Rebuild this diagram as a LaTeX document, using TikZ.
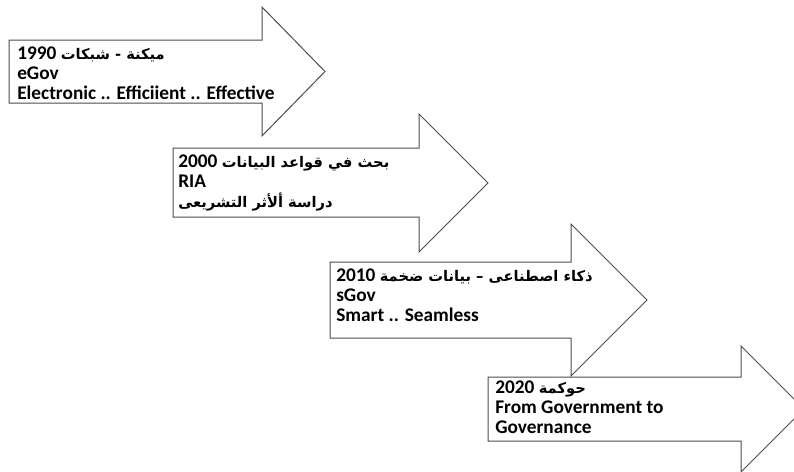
\documentclass[tikz,border=0pt]{standalone}
\usepackage{fontspec}
\setmainfont{Carlito}
\newfontfamily\arabicfont[Script=Arabic]{DejaVu Sans}
\TeXXeTstate=1
\usepackage{tikz}

% Arabic words set a little smaller than the Latin ones
\newcommand{\arwords}[1]{{\arabicfont\fontsize{11}{15}\selectfont #1}}

\begin{document}
\begin{tikzpicture}[
    x=0.75pt, y=-0.75pt,
    stagearrow/.style={draw=black!70, fill=white, line width=0.75pt, line join=miter},
    stagetext/.style={anchor=north west, inner sep=0pt, align=left,
                      font=\fontsize{14.5}{15}\selectfont\bfseries}
]
\useasboundingbox (0,0) rectangle (794,472);
\clip (0,0) rectangle (794,472);
%% Stage 1: 1990
\draw[stagearrow] (9,40) -- (262,40) -- (262,7) -- (325,71.5) -- (262,136)
    -- (262,103) -- (9,103) -- cycle;
\node[stagetext] (t1990) at (17,47) {
    \beginR\arwords{ميكنة - شبكات} 1990\endR\\
    eGov\\
    Electronic .. Efficiient .. Effective
};
%% Stage 2: 2000
\draw[stagearrow] (173,148) -- (419,148) -- (419,114) -- (488,183) -- (419,252)
    -- (419,217) -- (173,217) -- cycle;
\node[stagetext] (t2000) at (178,155) {
    \beginR\arwords{بحث في قواعد البيانات} 2000\endR\\
    RIA\\
    \beginR\arwords{دراسة ألأثر التشريعى}\endR
};
%% Stage 3: 2010
\draw[stagearrow] (330,262) -- (571,262) -- (571,224) -- (647,300) -- (571,376)
    -- (571,338) -- (330,338) -- cycle;
\node[stagetext] (t2010) at (336,269) {
    \beginR\arwords{ذكاء اصطناعى – بيانات ضخمة} 2010\endR\\
    sGov\\
    Smart .. Seamless
};
%% Stage 4: 2020
\draw[stagearrow] (488,377) -- (741,377) -- (741,346) -- (804,409) -- (741,472)
    -- (741,441) -- (488,441) -- cycle;
\node[stagetext] (t2020) at (495,381) {
    \beginR\arwords{حوكمة} 2020\endR\\
    From Government to\\
    Governance
};
\end{tikzpicture}
\end{document}
